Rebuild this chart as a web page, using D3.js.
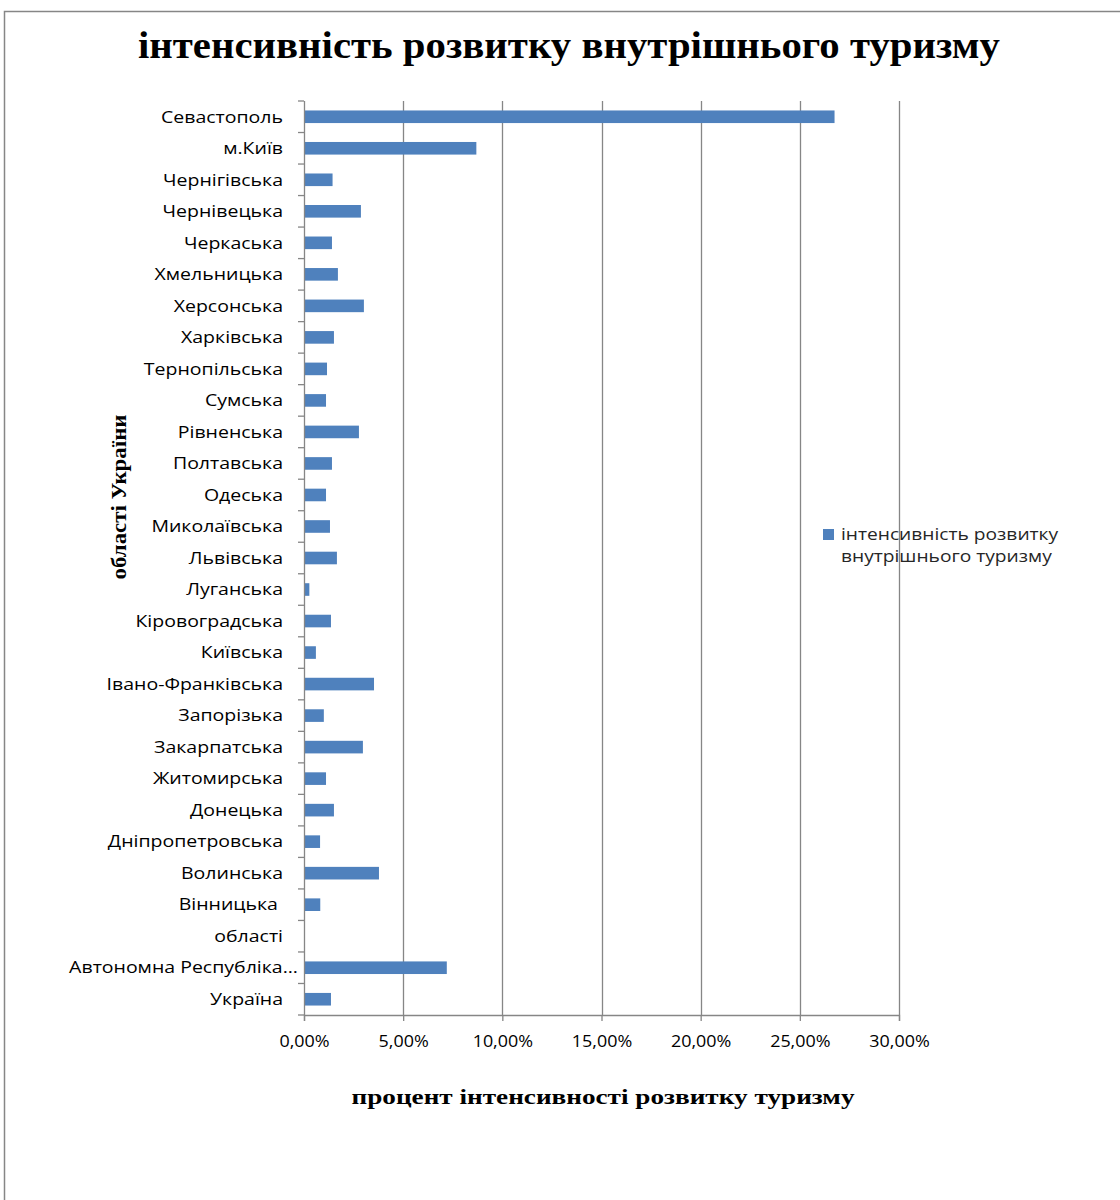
<!DOCTYPE html>
<html>
<head>
<meta charset="utf-8">
<script src="https://cdn.jsdelivr.net/npm/d3@7"></script>
<style>
  html, body { margin: 0; padding: 0; background: #fff; }
  svg { display: block; }
</style>
</head>
<body>
<svg id="chart" width="1120" height="1200"></svg>
<script>
// Regions, listed top to bottom as they appear on the chart
const categories = [
  "Севастополь", "м.Київ", "Чернігівська", "Чернівецька", "Черкаська",
  "Хмельницька", "Херсонська", "Харківська", "Тернопільська", "Сумська",
  "Рівненська", "Полтавська", "Одеська", "Миколаївська", "Львівська",
  "Луганська", "Кіровоградська", "Київська", "Івано-Франківська", "Запорізька",
  "Закарпатська", "Житомирська", "Донецька", "Дніпропетровська", "Волинська",
  "Вінницька ", "області", "Автономна Республіка...", "Україна"
];

// Intensity of domestic tourism, percent
const values = [
  26.75, 8.69, 1.44, 2.87, 1.41,
  1.71, 3.02, 1.51, 1.16, 1.11,
  2.77, 1.41, 1.11, 1.31, 1.66,
  0.27, 1.36, 0.60, 3.53, 1.00,
  2.97, 1.11, 1.51, 0.81, 3.78,
  0.82, 0, 7.20, 1.36
];

const xTicks = [0, 5, 10, 15, 20, 25, 30];

const titleText = "інтенсивність розвитку внутрішнього туризму";
const xTitle = "процент інтенсивності розвитку туризму";
const yTitle = "області України";
const seriesName = ["інтенсивність розвитку", "внутрішнього туризму"];

const svg = d3.select("#chart");
const grey = "#868686";
const barColor = "#4f81bd";
const sans = "'Open Sans', sans-serif";
const serif = "'Liberation Serif', 'Times New Roman', serif";

// Wide sans text: glyphs stretched horizontally around the anchor point
function wideText(sel, px, py, sx) {
  sel.attr("transform", (d, i) => {
    const X = typeof px === "function" ? px(d, i) : px;
    const Y = typeof py === "function" ? py(d, i) : py;
    return `translate(${X},${Y}) scale(${sx},1)`;
  });
}

// Outer chart frame
svg.append("path")
  .attr("d", "M4.5,1200 V11.5 H1120")
  .attr("fill", "none").attr("stroke", grey).attr("stroke-width", 1.5);

const plot = { left: 304, right: 899, top: 101, bottom: 1015 };

const x = d3.scaleLinear().domain([0, 30]).range([plot.left, plot.right]);
const y = d3.scaleBand().domain(d3.range(categories.length))
  .range([plot.top, plot.bottom]).paddingInner(0.6).paddingOuter(0.3);
const yEdge = d3.scaleLinear().domain([0, categories.length]).range([plot.top, plot.bottom]);

// Vertical gridlines
svg.append("g").selectAll("line")
  .data(xTicks.filter(d => d > 0))
  .join("line")
  .attr("x1", d => Math.round(x(d)) + 0.5).attr("x2", d => Math.round(x(d)) + 0.5)
  .attr("y1", plot.top).attr("y2", plot.bottom)
  .attr("stroke", grey).attr("stroke-width", 1.3);

// Bars
svg.append("g").selectAll("rect")
  .data(values)
  .join("rect")
  .attr("x", x(0))
  .attr("y", (d, i) => y(i))
  .attr("width", d => x(d) - x(0))
  .attr("height", y.bandwidth())
  .attr("fill", barColor);

// Category axis: line plus ticks at band boundaries
const yAxisG = svg.append("g");
yAxisG.append("line")
  .attr("x1", plot.left + 0.5).attr("x2", plot.left + 0.5)
  .attr("y1", plot.top).attr("y2", plot.bottom)
  .attr("stroke", grey).attr("stroke-width", 1.3);
yAxisG.selectAll("line.tick")
  .data(d3.range(categories.length + 1))
  .join("line").attr("class", "tick")
  .attr("x1", plot.left - 6).attr("x2", plot.left)
  .attr("y1", d => yEdge(d)).attr("y2", d => yEdge(d))
  .attr("stroke", grey).attr("stroke-width", 1.3);
// Truncated names keep their ellipsis hanging past the label column
yAxisG.selectAll("text")
  .data(categories)
  .join("text")
  .attr("dy", "0.36em")
  .attr("text-anchor", "end")
  .style("white-space", "pre")
  .attr("font-family", sans)
  .attr("font-size", 16)
  .attr("fill", "#000")
  .text(d => d)
  .call(wideText, d => d.endsWith("...") ? 298 : 283,
        (d, i) => y(i) + y.bandwidth() / 2, 1.22);

// Value axis at the bottom
const xAxis = d3.axisBottom(x)
  .tickValues(xTicks)
  .tickSize(6)
  .tickFormat(d => d3.format(".2f")(d).replace(".", ",") + "%");
const xg = svg.append("g")
  .attr("transform", `translate(0,${plot.bottom})`)
  .call(xAxis);
xg.select(".domain").attr("stroke", grey).attr("stroke-width", 1.3);
xg.selectAll(".tick line").attr("stroke", grey).attr("stroke-width", 1.3);
xg.selectAll(".tick text")
  .attr("y", null).attr("dy", null)
  .attr("font-family", sans)
  .attr("font-size", 16)
  .attr("fill", "#000")
  .call(wideText, 0, 32, 1.12);

// Chart title
svg.append("text")
  .attr("x", 569).attr("y", 58)
  .attr("text-anchor", "middle")
  .attr("font-family", serif)
  .attr("font-weight", "bold")
  .attr("font-size", 38)
  .attr("textLength", 862).attr("lengthAdjust", "spacingAndGlyphs")
  .text(titleText);

// Axis titles
svg.append("text")
  .attr("x", 603).attr("y", 1104)
  .attr("text-anchor", "middle")
  .attr("font-family", serif)
  .attr("font-weight", "bold")
  .attr("font-size", 22)
  .attr("textLength", 503).attr("lengthAdjust", "spacingAndGlyphs")
  .text(xTitle);

svg.append("text")
  .attr("transform", "translate(126,497) rotate(-90)")
  .attr("text-anchor", "middle")
  .attr("font-family", serif)
  .attr("font-weight", "bold")
  .attr("font-size", 22)
  .attr("textLength", 165).attr("lengthAdjust", "spacingAndGlyphs")
  .text(yTitle);

// Legend
const lg = svg.append("g");
lg.append("rect")
  .attr("x", 823).attr("y", 529).attr("width", 11).attr("height", 11)
  .attr("fill", barColor);
lg.selectAll("text")
  .data(seriesName)
  .join("text")
  .attr("font-family", sans)
  .attr("font-size", 16)
  .attr("fill", "#262626")
  .text(d => d)
  .call(wideText, 841, (d, i) => 540 + i * 22, 1.2);
</script>
</body>
</html>
